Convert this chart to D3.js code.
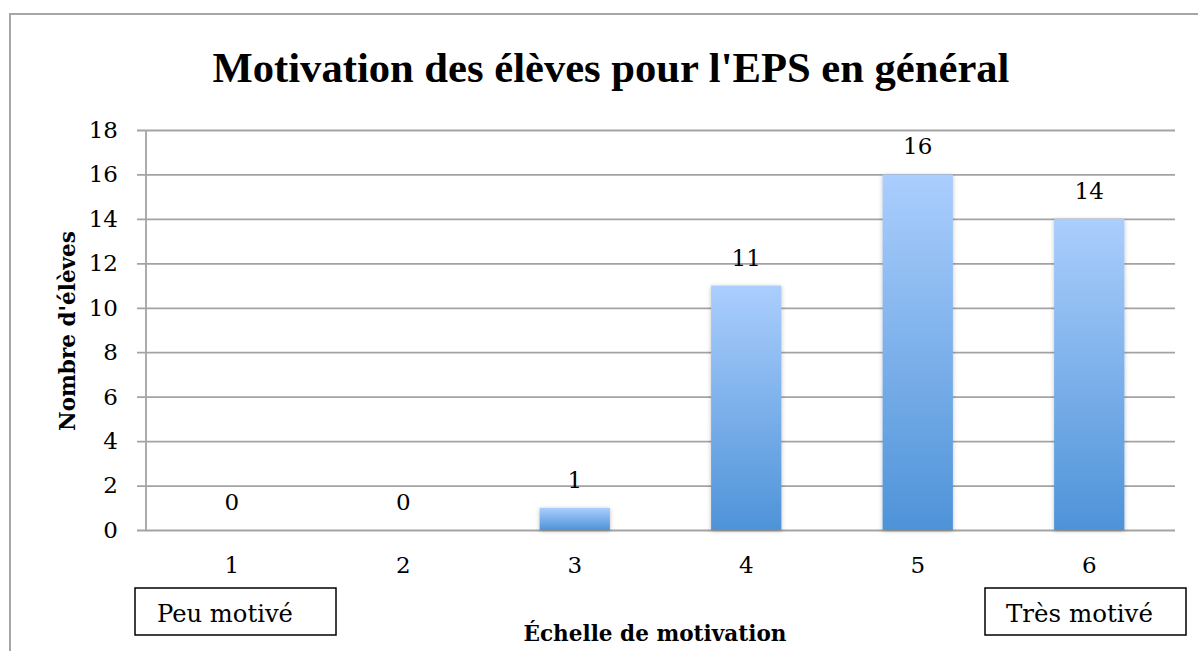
<!DOCTYPE html>
<html>
<head>
<meta charset="utf-8">
<script src="https://cdn.jsdelivr.net/npm/d3@7"></script>
<style>
  html, body { margin: 0; padding: 0; background: #fff; }
  svg { display: block; }
</style>
</head>
<body>
<svg id="chart" width="1198" height="651"></svg>
<script>
// ---- data ----
const categories = ["1", "2", "3", "4", "5", "6"];
const values = [0, 0, 1, 11, 16, 14];
const yTicks = [0, 2, 4, 6, 8, 10, 12, 14, 16, 18];
const title = "Motivation des élèves pour l'EPS en général";
const xTitle = "Échelle de motivation";
const yTitle = "Nombre d'élèves";
const lowLabel = "Peu motivé";
const highLabel = "Très motivé";

// ---- layout ----
const svg = d3.select("#chart");
const plot = { left: 146, right: 1175, top: 130, bottom: 530 };
const serif = "'DejaVu Serif', serif";
const titleFont = "'Liberation Serif', 'Times New Roman', serif";
const gridColor = "#a3a3a3";
const numSize = "23px";

function fit(sel, target, start) {
  let fs = start;
  sel.style("font-size", fs + "px");
  const len = sel.node().getComputedTextLength();
  fs = fs * target / len;
  sel.style("font-size", fs.toFixed(2) + "px");
  return fs;
}

// outer frame
svg.append("rect")
  .attr("x", 10).attr("y", 14).attr("width", 1400).attr("height", 900)
  .attr("fill", "none").attr("stroke", "#a6a6a6").attr("stroke-width", 2);

// defs
const defs = svg.append("defs");
const grad = defs.append("linearGradient").attr("id", "barGrad")
  .attr("x1", 0).attr("y1", 0).attr("x2", 0).attr("y2", 1);
grad.append("stop").attr("offset", "0%").attr("stop-color", "#abcefd");
grad.append("stop").attr("offset", "100%").attr("stop-color", "#4e93d8");
const filt = defs.append("filter").attr("id", "shadow")
  .attr("x", "-20%").attr("y", "-20%").attr("width", "140%").attr("height", "140%");
filt.append("feDropShadow").attr("dx", 0).attr("dy", 1).attr("stdDeviation", 2)
  .attr("flood-color", "#000").attr("flood-opacity", 0.25);

// scales
const x = d3.scaleBand().domain(categories)
  .range([plot.left, plot.right])
  .paddingInner(0.59).paddingOuter(0.295);
const y = d3.scaleLinear().domain([0, 18]).range([plot.bottom, plot.top]);

// title
const t = svg.append("text")
  .attr("x", 611).attr("y", 82)
  .attr("text-anchor", "middle")
  .style("font-family", titleFont).style("font-weight", "bold")
  .attr("fill", "#000")
  .text(title);
fit(t, 797, 40);

// y grid + ticks
const yAxis = d3.axisLeft(y).tickValues(yTicks)
  .tickSize(-(plot.right - 137)).tickPadding(19).tickFormat(d3.format("d"));
const gy = svg.append("g").attr("transform", "translate(137,0)").call(yAxis);
gy.select(".domain").remove();
gy.selectAll(".tick line").attr("stroke", gridColor).attr("stroke-width", 1.8);
gy.selectAll(".tick text")
  .style("font-family", serif).style("font-size", numSize).attr("fill", "#000");

// y axis line
svg.append("line")
  .attr("x1", plot.left).attr("x2", plot.left)
  .attr("y1", y(18)).attr("y2", y(0))
  .attr("stroke", gridColor).attr("stroke-width", 1.8);

// bars
svg.append("g").selectAll("rect").data(values).join("rect")
  .attr("x", (d, i) => x(categories[i]))
  .attr("width", x.bandwidth())
  .attr("y", d => y(d))
  .attr("height", d => y(0) - y(d))
  .attr("fill", "url(#barGrad)")
  .attr("filter", "url(#shadow)");

// data labels
svg.append("g").selectAll("text").data(values).join("text")
  .attr("x", (d, i) => x(categories[i]) + x.bandwidth() / 2)
  .attr("y", d => y(d) - 20)
  .attr("text-anchor", "middle")
  .style("font-family", serif).style("font-size", numSize).attr("fill", "#000")
  .text(d => d);

// x axis labels
const xAxis = d3.axisBottom(x).tickSize(0).tickPadding(27);
const gx = svg.append("g").attr("transform", `translate(0,${plot.bottom})`).call(xAxis);
gx.select(".domain").remove();
gx.selectAll(".tick text")
  .style("font-family", serif).style("font-size", numSize).attr("fill", "#000");

// x title
const xt = svg.append("text")
  .attr("x", 655).attr("y", 641)
  .attr("text-anchor", "middle")
  .style("font-family", serif).style("font-weight", "bold").attr("fill", "#000")
  .text(xTitle);
fit(xt, 263, 20);

// y title
const yt = svg.append("text")
  .attr("transform", "translate(75,331) rotate(-90)")
  .attr("text-anchor", "middle")
  .style("font-family", serif).style("font-weight", "bold").attr("fill", "#000")
  .text(yTitle);
fit(yt, 200, 20);

// annotation boxes
function box(x0, x1, tx, label, targetW) {
  svg.append("rect")
    .attr("x", x0).attr("y", 588).attr("width", x1 - x0).attr("height", 47)
    .attr("fill", "#fff").attr("stroke", "#000").attr("stroke-width", 1.5);
  const tt = svg.append("text")
    .attr("x", tx).attr("y", 622)
    .style("font-family", serif).attr("fill", "#000")
    .text(label);
  fit(tt, targetW, 22);
}
box(135, 336, 157, lowLabel, 136);
box(985, 1186, 1006, highLabel, 147);
</script>
</body>
</html>
